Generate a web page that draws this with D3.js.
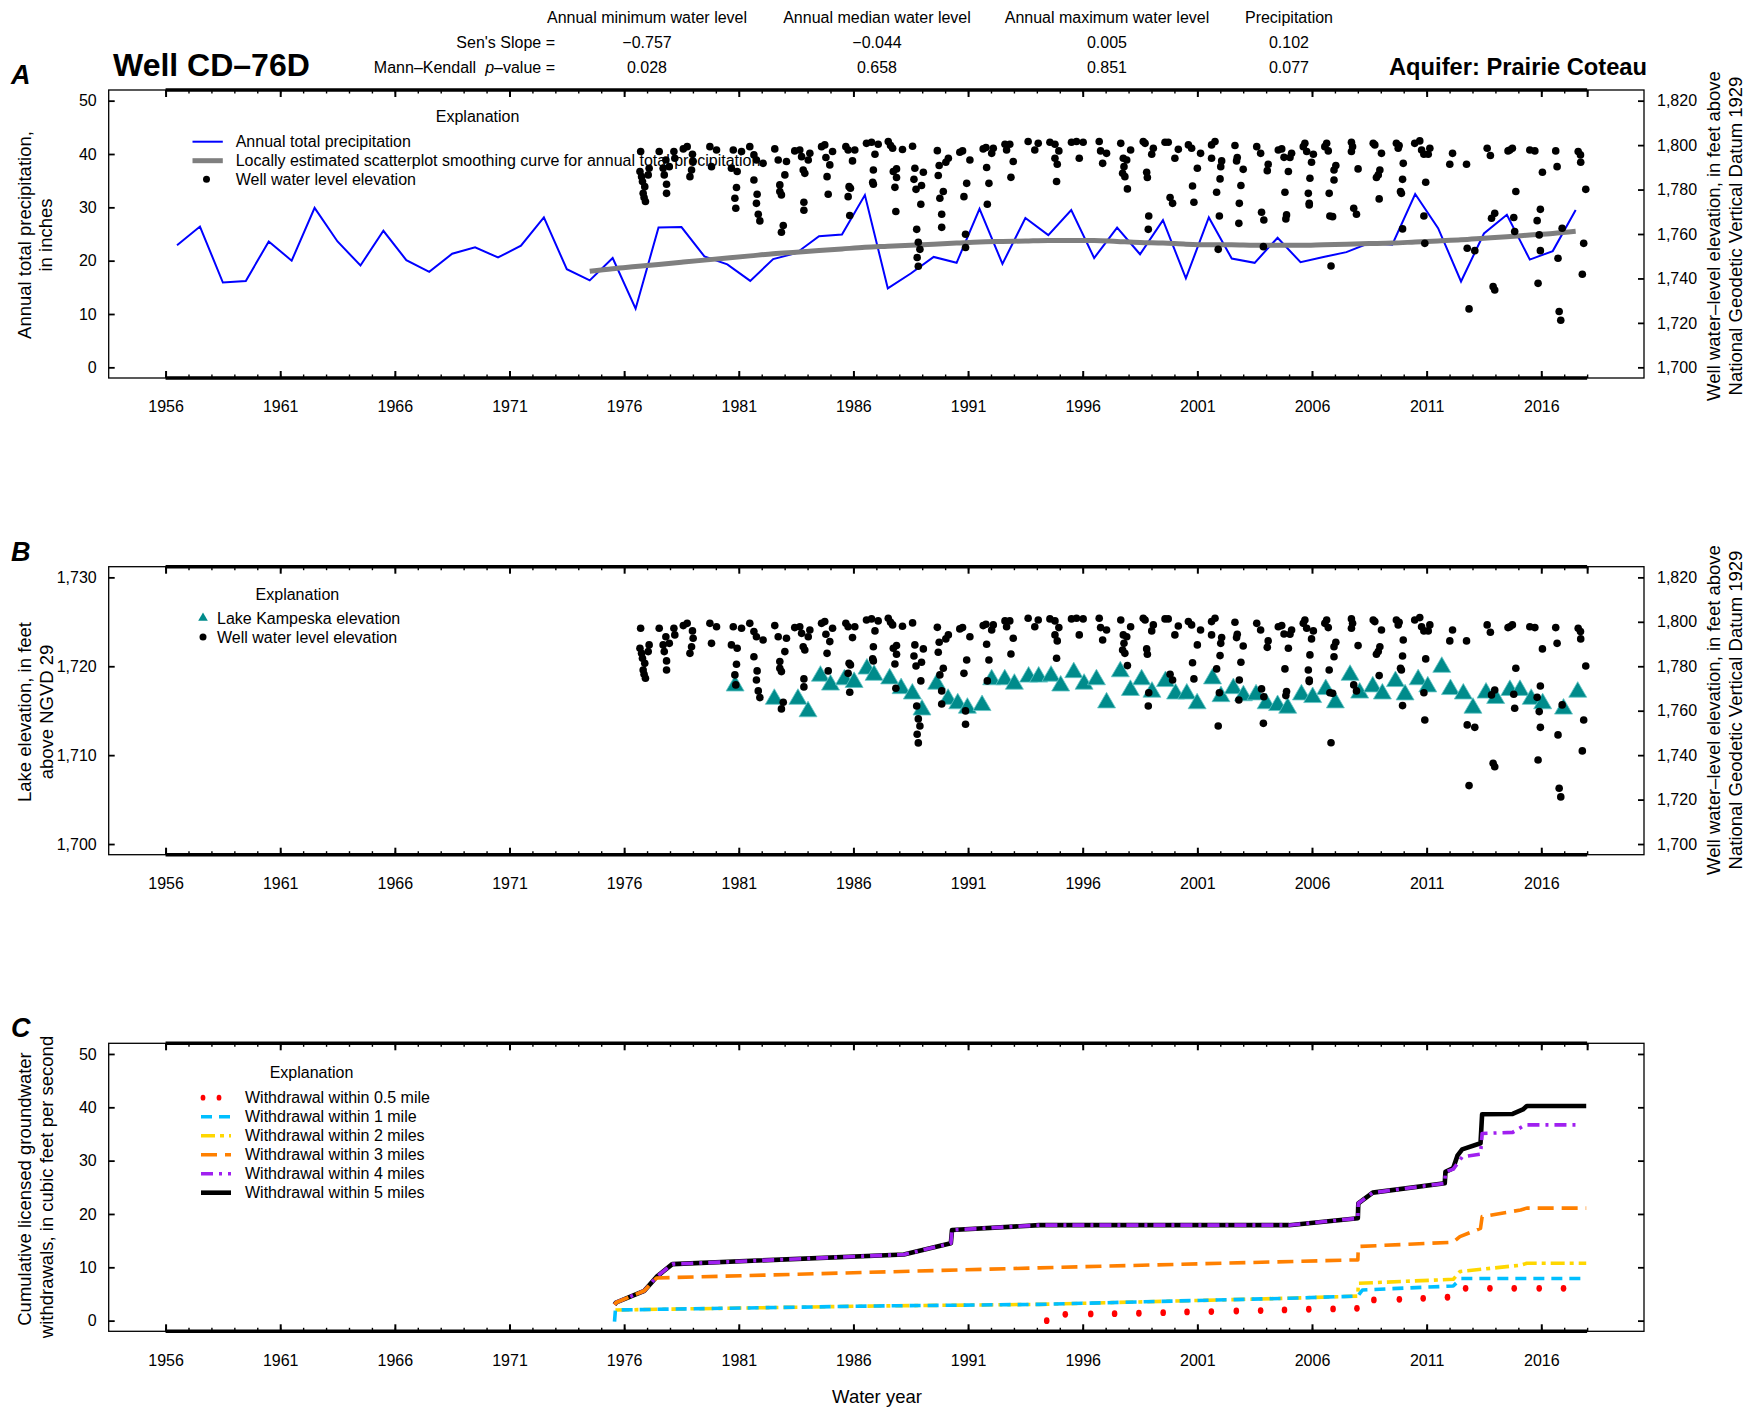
<!DOCTYPE html>
<html><head><meta charset="utf-8">
<script src="https://cdn.jsdelivr.net/npm/d3@7"></script>
<style>
body{margin:0;background:#fff}
svg{display:block}
text{font-family:"Liberation Sans",Arial,Helvetica,sans-serif;fill:#000}
</style></head><body>
<svg id="chart" width="1758" height="1408"></svg>
<script>
// ---------------- DATA ----------------
const xTickLabels = ["1956","1961","1966","1971","1976","1981","1986","1991","1996","2001","2006","2011","2016"];
const majorYears = [1956,1961,1966,1971,1976,1981,1986,1991,1996,2001,2006,2011,2016];
const minorYears = [1956,1957,1958,1959,1960,1961,1962,1963,1964,1965,1966,1967,1968,1969,1970,1971,1972,1973,1974,1975,1976,1977,1978,1979,1980,1981,1982,1983,1984,1985,1986,1987,1988,1989,1990,1991,1992,1993,1994,1995,1996,1997,1998,1999,2000,2001,2002,2003,2004,2005,2006,2007,2008,2009,2010,2011,2012,2013,2014,2015,2016,2017,2018];
const precipTicks = [0,10,20,30,40,50];
const wellTicks = [1700,1720,1740,1760,1780,1800,1820];
const lakeTicks = [1700,1710,1720,1730];
const withdrawalTicks = [0,10,20,30,40,50];

const precipYears = [1956,1957,1958,1959,1960,1961,1962,1963,1964,1965,1966,1967,1968,1969,1970,1971,1972,1973,1974,1975,1976,1977,1978,1979,1980,1981,1982,1983,1984,1985,1986,1987,1988,1989,1990,1991,1992,1993,1994,1995,1996,1997,1998,1999,2000,2001,2002,2003,2004,2005,2006,2007,2008,2009,2010,2011,2012,2013,2014,2015,2016,2017];
const precipValues = [22.9,26.4,15.9,16.2,23.6,20.0,29.9,23.6,19.1,25.6,20.1,17.9,21.3,22.5,20.6,22.8,28.1,18.4,16.3,20.5,11.0,26.2,26.3,20.8,19.3,16.2,20.3,21.4,24.6,24.9,32.3,14.8,17.6,20.7,19.6,29.7,19.4,28.0,24.8,29.5,20.5,26.2,21.2,27.6,16.7,28.1,20.4,19.6,24.3,19.7,20.7,21.6,23.3,23.0,32.5,26.1,16.1,25.1,28.6,20.2,21.8,29.5];

const loessYears = [1974,1975,1976,1977,1978,1979,1980,1981,1982,1983,1984,1985,1986,1987,1988,1989,1990,1991,1992,1993,1994,1995,1996,1997,1998,1999,2000,2001,2002,2003,2004,2005,2006,2007,2008,2009,2010,2011,2012,2013,2014,2015,2016,2017];
const loessValues = [18.0,18.5,18.9,19.3,19.7,20.1,20.5,20.9,21.3,21.6,21.9,22.2,22.5,22.7,22.9,23.1,23.3,23.5,23.6,23.7,23.8,23.8,23.8,23.6,23.4,23.3,23.1,23.0,23.0,22.9,22.9,22.9,23.0,23.1,23.2,23.3,23.5,23.7,23.9,24.2,24.5,24.8,25.1,25.5];

// well water level: [decimal year, elevation ft]
const wellLevels = [
[1976.72,1797.1],[1976.69,1788.1],[1976.76,1785.8],[1976.80,1783.6],[1976.90,1781.3],[1976.83,1778.3],[1976.87,1776.4],[1976.93,1774.6],[1977.09,1789.6],[1977.05,1786.6],
[1977.53,1797.1],[1977.70,1789.6],[1977.75,1786.6],[1977.85,1782.4],[1977.85,1778.3],[1977.82,1793.3],[1977.97,1790.3],[1978.17,1797.1],[1978.21,1794.1],
[1978.58,1798.3],[1978.75,1799.3],[1978.98,1795.9],[1979.01,1792.6],[1978.94,1788.8],[1978.87,1785.8],
[1979.74,1799.3],[1980.03,1797.8],[1979.81,1790.3],
[1980.76,1797.8],[1981.12,1797.1],[1981.48,1799.3],[1980.68,1789.6],[1980.93,1788.1],[1980.90,1780.9],[1980.83,1776.1],[1980.87,1771.6],
[1981.66,1795.6],[1981.77,1793.3],[1982.06,1791.8],[1981.66,1784.3],[1981.80,1777.9],[1981.77,1773.8],[1981.85,1768.9],[1981.92,1765.9],
[1982.57,1798.3],[1982.72,1793.3],[1983.08,1792.6],[1983.01,1786.6],[1982.79,1782.1],[1982.79,1779.1],[1982.86,1777.6],[1982.94,1763.8],[1982.86,1760.8],
[1983.44,1797.4],[1983.66,1797.8],[1983.74,1794.8],[1984.10,1796.3],[1984.03,1793.3],[1983.81,1788.8],[1983.88,1787.3],[1983.84,1774.3],[1983.84,1770.7],
[1984.61,1799.3],[1984.75,1800.1],[1985.09,1797.1],[1984.80,1794.4],[1984.97,1791.1],[1984.85,1785.8],[1984.90,1777.9],
[1985.67,1799.3],[1985.77,1797.8],[1986.06,1797.8],[1985.96,1792.9],[1985.81,1781.3],[1985.87,1780.6],[1985.77,1776.8],[1985.84,1768.3],
[1986.57,1800.8],
[1986.79,1801.3],[1987.08,1800.4],[1986.94,1795.9],[1986.87,1788.8],[1986.84,1783.3],[1986.87,1782.4],
[1987.52,1801.6],[1987.62,1799.8],[1987.71,1798.6],[1988.14,1798.0],[1988.58,1799.5],[1987.74,1788.1],[1987.88,1789.3],[1987.88,1785.4],[1987.81,1781.0],[1987.85,1770.1],
[1988.68,1789.6],[1988.64,1784.6],[1989.05,1787.8],[1988.97,1781.8],[1988.73,1780.1],[1988.94,1773.4],[1988.76,1762.1],[1988.83,1756.3],[1988.90,1753.1],[1988.78,1749.4],[1988.83,1745.5],
[1989.66,1797.5],[1990.14,1794.1],[1990.03,1792.3],[1989.74,1790.8],[1989.70,1786.3],[1989.92,1779.1],[1989.77,1776.1],[1989.85,1768.9],[1989.85,1763.0],
[1990.64,1796.8],[1990.76,1797.4],[1991.08,1793.3],[1990.94,1782.8],[1990.82,1776.8],[1990.89,1759.9],[1990.89,1753.9],
[1991.66,1798.3],[1991.78,1798.9],[1992.10,1798.6],[1992.03,1796.3],[1991.81,1789.9],[1991.91,1782.8],[1991.84,1773.4],
[1992.61,1800.4],[1992.82,1800.4],[1992.68,1797.8],[1992.97,1792.6],[1992.87,1785.5],
[1993.62,1801.6],[1994.06,1800.8],[1993.91,1797.8],
[1994.57,1801.3],[1994.79,1800.4],[1994.96,1797.4],[1994.79,1794.1],[1994.89,1791.4],[1994.86,1783.6],
[1995.51,1801.3],[1995.73,1801.6],[1996.02,1801.3],[1995.85,1794.1],
[1996.72,1801.6],[1996.78,1797.4],[1997.04,1796.3],[1996.87,1791.8],
[1997.66,1800.8],[1998.09,1797.8],[1997.77,1794.1],[1997.92,1793.3],[1997.80,1790.3],[1997.74,1787.3],[1997.84,1785.8],[1997.95,1780.3],
[1998.64,1801.6],[1998.72,1800.8],[1999.08,1798.6],[1999.01,1795.9],[1998.79,1787.8],[1998.82,1785.4],[1998.88,1768.1],[1998.86,1762.1],
[1999.59,1801.3],[1999.73,1801.3],[2000.17,1798.1],[2000.02,1794.1],[1999.81,1776.4],[1999.92,1773.8],
[2000.61,1800.1],[2000.75,1798.6],[2001.14,1796.3],[2001.00,1789.6],[2000.79,1781.6],[2000.85,1774.3],
[2001.62,1800.1],[2001.77,1801.6],[2001.62,1794.1],[2002.06,1792.9],[2002.02,1790.3],[2001.99,1784.8],[2001.84,1778.8],[2001.96,1768.1],[2001.91,1753.1],
[2002.64,1799.8],[2002.74,1794.4],[2002.71,1792.9],[2003.00,1789.1],[2002.90,1781.8],[2002.83,1773.8],[2002.81,1764.8],
[2003.59,1799.3],[2003.76,1796.3],[2004.09,1791.4],[2004.05,1788.5],[2003.80,1769.8],[2003.90,1766.3],[2003.88,1754.3],
[2004.53,1797.8],[2004.68,1798.3],[2005.11,1796.3],[2004.78,1794.5],[2005.04,1794.4],[2004.97,1788.1],[2004.82,1778.8],[2004.89,1768.6],[2004.86,1766.8],
[2005.69,1800.8],[2005.62,1799.3],[2005.77,1797.1],[2006.06,1795.9],[2005.98,1792.3],[2005.91,1785.1],[2005.84,1778.3],[2005.88,1773.8],[2005.88,1773.1],
[2006.64,1800.8],[2006.56,1799.3],[2006.71,1797.4],[2007.04,1790.8],[2006.96,1788.8],[2006.96,1784.3],[2006.75,1778.3],[2006.78,1768.1],[2006.90,1767.8],[2006.83,1745.6],
[2007.72,1801.3],[2007.77,1799.3],[2007.72,1797.1],[2008.01,1789.3],[2007.82,1771.6],[2007.94,1768.9],
[2008.67,1800.8],[2008.74,1800.1],[2009.03,1796.3],[2008.96,1788.8],[2008.89,1786.6],[2008.81,1785.4],[2008.93,1775.8],
[2009.68,1800.8],[2009.80,1799.8],[2009.76,1798.6],[2009.98,1791.8],[2009.95,1784.6],[2009.86,1779.1],[2009.90,1778.3],[2009.95,1762.3],
[2010.48,1800.8],[2010.70,1801.9],[2010.78,1797.8],[2010.88,1795.9],[2011.07,1795.9],[2011.14,1798.6],[2010.96,1783.3],[2010.88,1768.1],[2010.92,1755.8],
[2012.13,1796.3],[2012.01,1791.4],[2012.74,1791.4],[2012.77,1753.6],[2013.10,1752.5],[2012.85,1726.3],
[2013.64,1798.6],[2013.78,1795.3],[2013.97,1769.3],[2013.83,1767.1],[2013.90,1736.3],[2013.97,1734.8],
[2014.63,1797.8],[2014.74,1798.6],[2014.55,1797.4],[2014.89,1779.1],[2014.80,1767.4],[2014.84,1761.1],
[2015.50,1797.8],[2015.72,1797.4],[2016.05,1787.8],[2015.96,1771.1],[2015.82,1766.0],[2015.91,1759.6],[2015.96,1752.5],[2015.86,1737.8],
[2016.63,1797.4],[2016.69,1790.3],[2016.91,1762.6],[2016.73,1749.1],[2016.78,1725.1],[2016.85,1721.2],
[2017.61,1797.1],[2017.71,1795.6],[2017.72,1792.3],[2017.94,1780.1],[2017.85,1755.8],[2017.79,1741.9]
];

// Lake Kampeska elevation: [decimal year, elevation ft]
const lakeLevels = [
[1980.84,1717.8],[1982.55,1716.3],[1983.58,1716.3],[1984.02,1714.9],[1984.56,1718.9],[1985.00,1717.9],[1985.61,1718.5],[1986.03,1718.2],[1986.59,1719.7],
[1986.90,1719.0],[1987.58,1718.6],[1988.08,1717.5],[1988.57,1716.9],[1988.99,1715.1],[1989.63,1718.0],[1990.13,1716.3],[1990.55,1715.8],[1990.97,1715.3],
[1991.61,1715.6],[1992.03,1718.5],[1992.60,1718.5],[1993.02,1718.0],[1993.64,1718.8],[1994.08,1718.8],[1994.62,1718.9],[1995.04,1717.8],[1995.61,1719.3],
[1996.06,1718.0],[1996.60,1718.5],[1997.04,1715.9],[1997.64,1719.4],[1998.08,1717.3],[1998.57,1718.5],[1999.02,1717.1],[1999.61,1718.3],[2000.05,1716.9],
[2000.54,1716.9],[2000.99,1715.8],[2001.66,1718.6],[2002.03,1716.6],[2002.57,1717.5],[2003.01,1716.7],[2003.56,1716.8],[2004.00,1715.8],[2004.50,1715.6],
[2004.94,1715.3],[2005.54,1716.8],[2006.03,1716.5],[2006.60,1717.4],[2007.02,1715.9],[2007.66,1719.0],[2008.08,1717.0],[2008.65,1717.7],[2009.07,1716.9],
[2009.64,1718.3],[2010.06,1716.8],[2010.63,1718.5],[2011.05,1717.7],[2011.66,1719.9],[2012.04,1717.4],[2012.60,1716.9],[2013.02,1715.3],[2013.59,1717.0],
[2014.01,1716.4],[2014.63,1717.3],[2015.07,1717.3],[2015.56,1716.3],[2016.06,1715.8],[2016.97,1715.2],[2017.59,1717.1]
];

// cumulative licensed withdrawals (cfs): [decimal year, value]
const within05 = [[1994.43,0.0],[1995.24,1.19],[1996.35,1.25],[1997.39,1.31],[1998.45,1.38],[1999.51,1.5],[2000.55,1.63],[2001.61,1.69],[2002.70,1.81],[2003.76,1.88],[2004.80,2.0],[2005.86,2.13],[2006.92,2.19],[2007.96,2.31],[2008.70,3.88],[2009.81,4.0],[2010.85,4.19],[2011.91,4.38],[2012.70,6.06],[2013.76,6.06],[2014.82,6.06],[2015.91,6.06],[2016.97,6.06]];
const within1 = [[1975.58,-0.2],[1975.62,2.0],[1987.0,2.75],[1994.1,3.05],[2005.0,4.2],[2008.0,4.6],[2008.2,5.75],[2012.16,6.5],[2012.5,7.9],[2017.96,7.9]];
const within2 = [[1975.62,2.0],[1987.0,2.75],[1994.1,3.05],[2005.0,4.2],[2008.0,4.6],[2008.02,7.0],[2012.16,7.75],[2012.45,9.2],[2015.1,10.4],[2015.37,10.75],[2017.96,10.75]];
const within3 = [[1975.58,3.0],[1975.65,3.4],[1976.88,5.6],[1977.41,8.0],[1994.1,9.9],[2008.0,11.4],[2008.02,13.9],[2012.16,14.7],[2012.45,15.75],[2013.35,17.3],[2013.42,19.5],[2015.1,20.75],[2015.37,21.1],[2017.96,21.1]];
const within4 = [[1975.58,3.0],[1975.65,3.4],[1976.88,5.6],[1977.41,8.2],[1978.10,10.6],[1988.2,12.4],[1990.25,14.5],[1990.3,17.0],[1994.1,17.9],[2005.0,17.9],[2008.0,19.2],[2008.02,22.0],[2008.65,24.0],[2011.79,25.75],[2011.82,27.9],[2012.16,28.4],[2012.4,29.8],[2012.55,30.7],[2013.35,31.2],[2013.42,35.1],[2014.75,35.3],[2015.3,36.7],[2017.6,36.7]];
const within5 = [[1975.58,3.0],[1975.65,3.4],[1976.88,5.6],[1977.41,8.2],[1978.10,10.6],[1988.2,12.4],[1990.25,14.5],[1990.3,17.0],[1994.1,17.9],[2005.0,17.9],[2008.0,19.2],[2008.02,22.0],[2008.65,24.0],[2011.79,25.75],[2011.82,27.9],[2012.16,28.6],[2012.35,31.0],[2012.55,32.1],[2013.35,33.25],[2013.42,38.7],[2014.75,38.75],[2015.2,39.6],[2015.37,40.25],[2017.96,40.25]];

const statColumns = ["Annual minimum water level","Annual median water level","Annual maximum water level","Precipitation"];
const sensSlope = ["\u22120.757","\u22120.044","0.005","0.102"];
const mkPValue = ["0.028","0.658","0.851","0.077"];

// ---------------- LAYOUT ----------------
const svg = d3.select("#chart");
const FONT = '"Liberation Sans", Arial, Helvetica, sans-serif';
const frameL = 108.7, frameR = 1644, panelH = 288;
const panelTops = [90, 566.7, 1043.3];
const x = d3.scaleLinear().domain([1953.52, 2020.48]).range([frameL, frameR]);

function drawFrame(T, yL, yR, leftTicks, rightTicks, rightLabels, leftFmt) {
  const g = svg.append("g");
  const B = T + panelH;
  g.append("rect").attr("x", frameL).attr("y", T).attr("width", frameR - frameL).attr("height", panelH)
    .attr("fill", "none").attr("stroke", "#000").attr("stroke-width", 1.3);
  const minB = g.append("g").attr("transform", `translate(0,${B})`)
    .call(d3.axisBottom(x).tickValues(minorYears).tickSize(-3.5).tickFormat(""));
  const minT = g.append("g").attr("transform", `translate(0,${T})`)
    .call(d3.axisTop(x).tickValues(minorYears).tickSize(-3.5).tickFormat(""));
  [minB, minT].forEach(a => { a.select(".domain").remove(); a.selectAll("line").attr("stroke-width", 1.4); });
  const majB = g.append("g").attr("transform", `translate(0,${B})`)
    .call(d3.axisBottom(x).tickValues(majorYears).tickSize(-7).tickPadding(23).tickFormat((d, i) => xTickLabels[i]));
  const majT = g.append("g").attr("transform", `translate(0,${T})`)
    .call(d3.axisTop(x).tickValues(majorYears.concat([2018])).tickSize(-7).tickFormat(""));
  [majB, majT].forEach(a => { a.select(".domain").remove(); a.selectAll("line").attr("stroke-width", 2); });
  majB.attr("font-size", 16).attr("font-family", FONT);
  majB.selectAll("text").attr("fill", "#000");
  [T, B].forEach(yy => g.append("line").attr("x1", x(1956)).attr("x2", x(2018)).attr("y1", yy).attr("y2", yy)
    .attr("stroke", "#000").attr("stroke-width", 3.6));
  const la = g.append("g").attr("transform", `translate(${frameL},0)`)
    .call(d3.axisLeft(yL).tickValues(leftTicks).tickSize(-6).tickPadding(12).tickFormat(leftFmt));
  la.select(".domain").remove();
  la.selectAll("line").attr("stroke-width", 1.8);
  la.attr("font-size", 16).attr("font-family", FONT);
  la.selectAll("text").attr("fill", "#000");
  const ra = g.append("g").attr("transform", `translate(${frameR},0)`)
    .call(d3.axisRight(yR).tickValues(rightTicks).tickSize(-6).tickPadding(13).tickFormat(rightLabels ? d3.format(",") : ""));
  ra.select(".domain").remove();
  ra.selectAll("line").attr("stroke-width", 1.8);
  ra.attr("font-size", 16).attr("font-family", FONT);
  ra.selectAll("text").attr("fill", "#000");
}

function vText(xx, cy, str, size) {
  svg.append("text").attr("transform", `translate(${xx},${cy}) rotate(-90)`)
    .attr("text-anchor", "middle").attr("dy", "0.35em").attr("font-size", size).text(str);
}
function txt(xx, yy, str, size, anchor, weight, style) {
  return svg.append("text").attr("x", xx).attr("y", yy).attr("font-size", size)
    .attr("text-anchor", anchor || "start").attr("font-weight", weight || "normal")
    .attr("font-style", style || "normal").text(str);
}

// ---------------- HEADER ----------------
const colX = [647, 877, 1107, 1289];
statColumns.forEach((c, i) => txt(colX[i], 22.7, c, 16, "middle"));
txt(555, 48.3, "Sen's Slope =", 16, "end");
const mk = svg.append("text").attr("x", 555).attr("y", 72.5).attr("font-size", 16).attr("text-anchor", "end");
mk.append("tspan").text("Mann\u2013Kendall");
mk.append("tspan").attr("dx", 9).attr("font-style", "italic").text("p");
mk.append("tspan").text("\u2013value =");
sensSlope.forEach((v, i) => txt(colX[i], 48.3, v, 16, "middle"));
mkPValue.forEach((v, i) => txt(colX[i], 72.5, v, 16, "middle"));
txt(113, 75.5, "Well CD\u201376D", 32, "start", "bold");
txt(1647, 75, "Aquifer: Prairie Coteau", 23.7, "end", "bold");

["A", "B", "C"].forEach((l, i) => txt(11, panelTops[i] - 6, l, 27, "start", "bold", "italic"));

// ---------------- PANEL A ----------------
{
  const T = panelTops[0];
  const yL = d3.scaleLinear().domain([-2, 52]).range([T + panelH, T]);
  const yR = d3.scaleLinear().domain([1695.2, 1824.8]).range([T + panelH, T]);
  drawFrame(T, yL, yR, precipTicks, wellTicks, true, d3.format("d"));
  const g = svg.append("g");
  const precip = precipYears.map((yr, i) => [yr + 0.5, precipValues[i]]);
  g.append("path").datum(precip).attr("fill", "none").attr("stroke", "#0000FF").attr("stroke-width", 2)
    .attr("d", d3.line().x(d => x(d[0])).y(d => yL(d[1])));
  const loess = loessYears.map((yr, i) => [yr + 0.5, loessValues[i]]);
  g.append("path").datum(loess).attr("fill", "none").attr("stroke", "#7f7f7f").attr("stroke-width", 5)
    .attr("d", d3.line().curve(d3.curveMonotoneX).x(d => x(d[0])).y(d => yL(d[1])));
  g.selectAll("circle.w").data(wellLevels).enter().append("circle")
    .attr("cx", d => x(d[0])).attr("cy", d => yR(d[1])).attr("r", 3.8).attr("fill", "#000");
  txt(477.6, 122.4, "Explanation", 16, "middle");
  g.append("line").attr("x1", 192.5).attr("x2", 222.8).attr("y1", 141.7).attr("y2", 141.7).attr("stroke", "#0000FF").attr("stroke-width", 2);
  g.append("line").attr("x1", 192.5).attr("x2", 222.8).attr("y1", 160.7).attr("y2", 160.7).attr("stroke", "#7f7f7f").attr("stroke-width", 5);
  g.append("circle").attr("cx", 206.5).attr("cy", 179.3).attr("r", 3.5).attr("fill", "#000");
  txt(235.7, 147.4, "Annual total precipitation", 16);
  txt(235.7, 166.4, "Locally estimated scatterplot smoothing curve for annual total precipitation", 16);
  txt(235.7, 185, "Well water level elevation", 16);
  vText(25, 235, "Annual total precipitation,", 18.5);
  vText(46, 235, "in inches", 18.5);
  vText(1714, 236, "Well water\u2013level elevation, in feet above", 18.5);
  vText(1735.5, 236, "National Geodetic Vertical Datum 1929", 18.5);
}

// ---------------- PANEL B ----------------
{
  const T = panelTops[1];
  const yL = d3.scaleLinear().domain([1698.8, 1731.2]).range([T + panelH, T]);
  const yR = d3.scaleLinear().domain([1695.2, 1824.8]).range([T + panelH, T]);
  drawFrame(T, yL, yR, lakeTicks, wellTicks, true, d3.format(","));
  const g = svg.append("g");
  const tri = d3.symbol().type(d3.symbolTriangle).size(140);
  g.selectAll("path.l").data(lakeLevels).enter().append("path")
    .attr("transform", d => `translate(${x(d[0])},${yL(d[1])})`).attr("d", tri)
    .attr("fill", "#008B8B").attr("stroke", "#63c5c5").attr("stroke-width", 0.8);
  g.selectAll("circle.w").data(wellLevels).enter().append("circle")
    .attr("cx", d => x(d[0])).attr("cy", d => yR(d[1])).attr("r", 3.8).attr("fill", "#000");
  txt(297.4, 599.7, "Explanation", 16, "middle");
  g.append("path").attr("transform", "translate(203,618)").attr("d", d3.symbol().type(d3.symbolTriangle).size(40))
    .attr("fill", "#008B8B");
  g.append("circle").attr("cx", 203).attr("cy", 637).attr("r", 3.5).attr("fill", "#000");
  txt(217, 623.7, "Lake Kampeska elevation", 16);
  txt(217, 642.7, "Well water level elevation", 16);
  vText(25, 712, "Lake elevation, in feet", 18.5);
  vText(47, 712, "above NGVD 29", 18.5);
  vText(1714, 710, "Well water\u2013level elevation, in feet above", 18.5);
  vText(1735.5, 710, "National Geodetic Vertical Datum 1929", 18.5);
}

// ---------------- PANEL C ----------------
{
  const T = panelTops[2];
  const yL = d3.scaleLinear().domain([-2, 52]).range([T + panelH, T]);
  drawFrame(T, yL, yL, withdrawalTicks, withdrawalTicks, false, d3.format("d"));
  const g = svg.append("g");
  const line = d3.line().x(d => x(d[0])).y(d => yL(d[1]));
  const series = [
    {d: within5, c: "#000000", w: 4.6, dash: null, label: "Withdrawal within 5 miles"},
    {d: within4, c: "#A020F0", w: 3.6, dash: "12 6 3 6", label: "Withdrawal within 4 miles"},
    {d: within3, c: "#FF8000", w: 3.6, dash: "16 8", label: "Withdrawal within 3 miles"},
    {d: within2, c: "#FFD700", w: 3.6, dash: "14 5 4 5", label: "Withdrawal within 2 miles"},
    {d: within1, c: "#00BFFF", w: 3.6, dash: "11 7", label: "Withdrawal within 1 mile"},
    {d: within05, c: "#FF0000", w: 5.5, dash: "dots", label: "Withdrawal within 0.5 mile"}
  ];
  series.forEach(s => {
    if (s.dash === "dots") {
      g.selectAll("ellipse.r").data(s.d).enter().append("ellipse")
        .attr("cx", d => x(d[0])).attr("cy", d => yL(d[1])).attr("rx", 2.8).attr("ry", 3.4).attr("fill", s.c);
    } else {
      g.append("path").datum(s.d).attr("fill", "none").attr("stroke", s.c).attr("stroke-width", s.w)
        .attr("stroke-dasharray", s.dash).attr("stroke-linejoin", "round").attr("d", line);
    }
  });
  txt(311.5, 1078.4, "Explanation", 16, "middle");
  const legendOrder = [5, 4, 3, 2, 1, 0];
  legendOrder.forEach((si, k) => {
    const s = series[si];
    const yy = 1097.7 + k * 19;
    if (s.dash === "dots") {
      [203, 219].forEach(cx => g.append("ellipse").attr("cx", cx).attr("cy", yy).attr("rx", 2.4).attr("ry", 2.9).attr("fill", s.c));
    } else {
      g.append("line").attr("x1", 201).attr("x2", 231).attr("y1", yy).attr("y2", yy)
        .attr("stroke", s.c).attr("stroke-width", s.w).attr("stroke-dasharray", s.dash);
    }
    txt(245, yy + 5.7, s.label, 16);
  });
  vText(25, 1189, "Cumulative licensed groundwater", 18.5);
  vText(47, 1187, "withdrawals, in cubic feet per second", 18.5);
  txt(877, 1402.5, "Water year", 18.5, "middle");
}
</script></body></html>
